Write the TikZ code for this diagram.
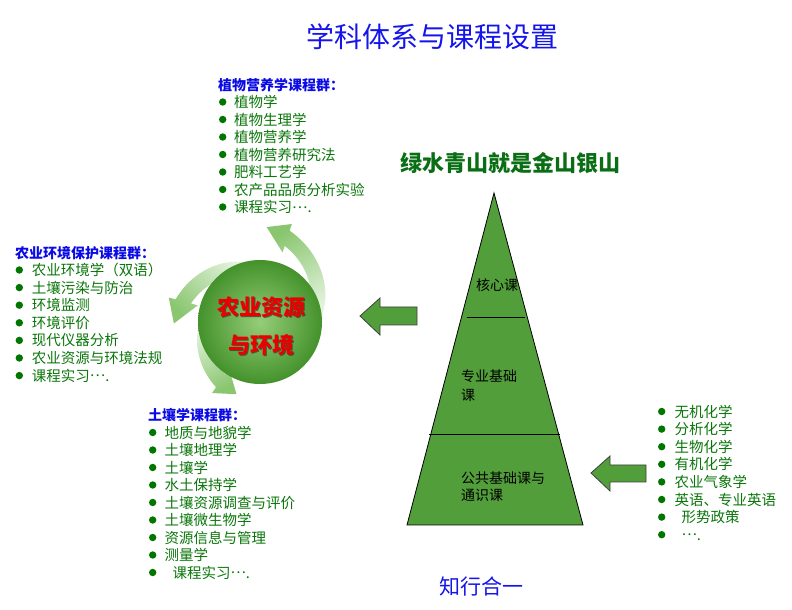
\documentclass[tikz,border=0pt]{standalone}
\usepackage{fontspec}
\setmainfont{Noto Sans CJK SC}

\definecolor{titleblue}{RGB}{20,20,235}
\definecolor{headblue}{RGB}{10,10,230}
\definecolor{coursegreen}{RGB}{10,118,10}
\definecolor{dotgreen}{RGB}{0,118,0}
\definecolor{mottogreen}{RGB}{10,110,20}
\definecolor{pyrgreen}{RGB}{82,158,58}
\definecolor{ballin}{RGB}{150,205,120}
\definecolor{ballout}{RGB}{68,146,44}
\definecolor{swirl}{RGB}{138,198,112}
\definecolor{swirlpale}{RGB}{228,243,222}
\definecolor{corered}{RGB}{235,0,0}

\newcommand{\moredots}{\raisebox{0.3em}[0pt][0pt]{…}.\vphantom{课}}

\begin{document}
\begin{tikzpicture}[x=1pt, y=1pt,
    grouphead/.style={anchor=west, inner sep=0pt, text=headblue,
        font=\fontsize{14}{16}\selectfont\bfseries},
    course/.style={anchor=west, inner sep=0pt, text=coursegreen,
        font=\fontsize{14.5}{16}\selectfont},
    coredot/.style={fill=dotgreen},
    layertext/.style={anchor=west, inner sep=0pt, align=left,
        font=\fontsize{14}{19}\selectfont},
    hubtext/.style={inner sep=0pt, text=corered,
        font=\fontsize{22}{24}\selectfont\bfseries},
    swirlarrow/.style={top color=swirl, bottom color=swirlpale, shading angle=#1},
    blockarrow/.style={fill=pyrgreen, draw=black!75, line width=0.8pt}]
    \useasboundingbox (0,0) rectangle (792,610);

    % headings
    \node[font=\fontsize{28}{30}\selectfont, text=titleblue] (title) at (432,573) {学科体系与课程设置};
    \node[font=\fontsize{22}{24}\selectfont\bfseries, text=mottogreen] (motto) at (510,447) {绿水青山就是金山银山};
    \node[font=\fontsize{21}{24}\selectfont, text=titleblue] (unity) at (481,23) {知行合一};

    % swirl arrows round the hub
    \foreach \tail/\base/\tip/\ra/\aa/\k/\ang in {0/72/86/61/19/0.51/30,
            95/165/181/58/114/0.42/135, 175/236/252/54.5/187/0.33/210}{
        \begin{scope}[shift={(260,288)}, declare function={rc(\t)=\ra+\k*(\t-\aa);}]
            \shade[swirlarrow=\ang] plot[domain=\tail:\base, samples=30] (\x:{rc(\x)+8})
                -- (\base:{rc(\base)+15}) -- (\tip:{rc(\tip)}) -- (\base:{rc(\base)-15})
                -- plot[domain=\base:\tail, samples=30] (\x:{rc(\x)-8}) -- cycle;
        \end{scope}
    }

    % hub
    \node[circle, minimum size=124pt, inner sep=0pt, inner color=ballin, outer color=ballout] (hub) at (260,288) {};
    \node[hubtext, text=black!80, opacity=0.7] (hubtopshadow) at (262.3,301.7) {农业资源};
    \node[hubtext, text=black!80, opacity=0.7] (hubbotshadow) at (262.3,263.7) {与环境};
    \node[hubtext] (hubtop) at (261,303) {农业资源};
    \node[hubtext] (hubbot) at (261,265) {与环境};

    % course groups
    \node[grouphead] (planthead) at (218,525) {植物营养学课程群：};
    \foreach \course [count=\i] in {植物学, 植物生理学, 植物营养学, 植物营养研究法,
            肥料工艺学, 农产品品质分析实验, 课程实习\moredots}{
        \node[course] (plant\i) at (234,{508-17.5*(\i-1)}) {\course};
        \fill[coredot] (222.7,{508-17.5*(\i-1)}) circle (3.7);
    }

    \node[grouphead] (envhead) at (15,357) {农业环境保护课程群：};
    \foreach \course [count=\i] in {农业环境学（双语）, 土壤污染与防治, 环境监测, 环境评价,
            现代仪器分析, 农业资源与环境法规, 课程实习\moredots}{
        \node[course] (env\i) at (31.7,{340-17.6*(\i-1)}) {\course};
        \fill[coredot] (19.3,{340-17.6*(\i-1)}) circle (3.7);
    }

    \node[grouphead] (soilhead) at (148,195) {土壤学课程群：};
    \foreach \course [count=\i] in {地质与地貌学, 土壤地理学, 土壤学, 水土保持学,
            土壤资源调查与评价, 土壤微生物学, 资源信息与管理, 测量学, \hspace{8pt}课程实习\moredots}{
        \node[course] (soil\i) at (164.3,{177.5-17.5*(\i-1)}) {\course};
        \fill[coredot] (152.7,{177.5-17.5*(\i-1)}) circle (3.7);
    }

    \foreach \course [count=\i] in {无机化学, 分析化学, 生物化学, 有机化学, 农业气象学,
            英语、专业英语, \hspace{7pt}形势政策, \hspace{7pt}\moredots}{
        \node[course] (base\i) at (674.3,{198.5-17.6*(\i-1)}) {\course};
        \fill[coredot] (661.7,{198.5-17.6*(\i-1)}) circle (3.7);
    }

    % pyramid
    \coordinate (apex) at (494,417);
    \coordinate (baseL) at (407,85);
    \coordinate (baseR) at (583,85);
    \draw[fill=pyrgreen, line width=0.8pt] (apex) -- (baseR) -- (baseL) -- cycle;
    \draw[line width=0.8pt] (467,293) -- (525,293);
    \draw[line width=0.8pt] (429,176) -- (560,176);
    \node[layertext] (core) at (476,325) {核心课};
    \node[layertext] (major) at (461,224.5) {专业基础\\课};
    \node[layertext, font=\fontsize{14}{17}\selectfont] (general) at (461,123.5) {公共基础课与\\通识课};

    % block arrows
    \draw[blockarrow] (360,294) -- (380,312) -- (380,303) -- (417,303)
        -- (417,285) -- (380,285) -- (380,275) -- cycle;
    \draw[blockarrow] (591,137) -- (610,154) -- (610,145) -- (646,145)
        -- (646,128) -- (610,128) -- (610,119) -- cycle;
\end{tikzpicture}
\end{document}
